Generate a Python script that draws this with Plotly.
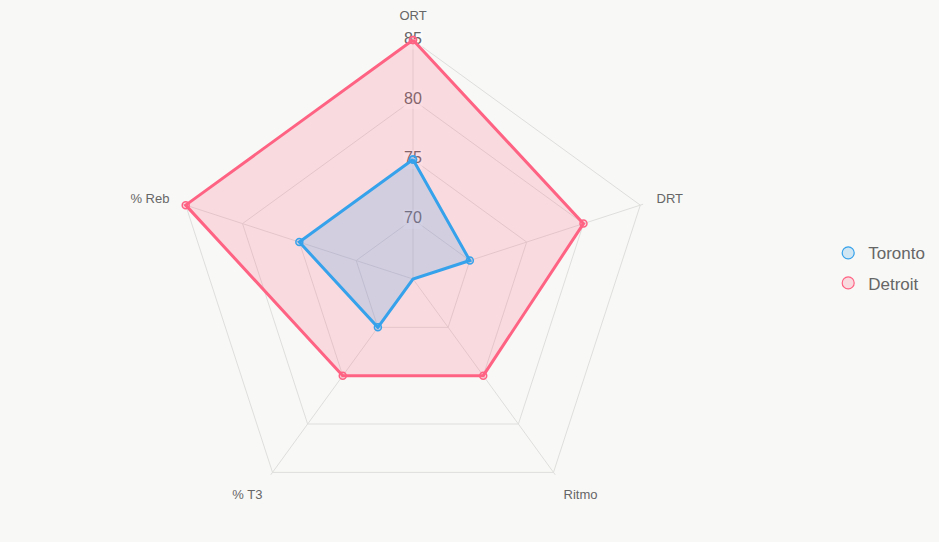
import plotly.graph_objects as go

categories = ["ORT", "DRT", "Ritmo", "% T3", "% Reb"]
toronto = [75, 70, 65, 70, 75]
detroit = [85, 80, 75, 75, 85]
tick_vals = [70, 75, 80, 85]
tick_text = ["70", "75", "80", "85"]

bg = "rgb(248,248,246)"
grid = "rgb(222,222,220)"
blue = "rgb(54,162,235)"
red = "rgb(255,99,132)"

fig = go.Figure()

# radial tick labels along the first axis
fig.add_trace(go.Scatterpolar(
    r=tick_vals, theta=[categories[0]] * len(tick_vals),
    mode="markers+text", text=tick_text, textposition="middle center",
    textfont=dict(family="Liberation Sans, Arial", size=16, color="#666"),
    marker=dict(symbol="square", size=19, color="rgba(255,255,255,0.55)"),
    showlegend=False, hoverinfo="skip", cliponaxis=False))

def closed(v):
    return list(v) + [v[0]]

for name, vals, col, fillc in [("Detroit", detroit, red, "rgba(255,99,132,0.2)"),
                                ("Toronto", toronto, blue, "rgba(54,162,235,0.2)")]:
    fig.add_trace(go.Scatterpolar(
        r=closed(vals), theta=closed(categories), name=name,
        mode="lines+markers", fill="toself", fillcolor=fillc,
        line=dict(color=col, width=3),
        marker=dict(size=7, color=fillc, line=dict(color=col, width=1.5)),
        showlegend=False, cliponaxis=False))

for name, col, fillc in [("Toronto", blue, "rgba(54,162,235,0.2)"),
                         ("Detroit", red, "rgba(255,99,132,0.2)")]:
    fig.add_trace(go.Scatterpolar(
        r=[None], theta=[None], name=name, mode="markers", legendgroup=name,
        marker=dict(size=12, color=fillc, line=dict(color=col, width=1.2)),
        showlegend=True))

fig.update_layout(
    width=939, height=542,
    margin=dict(l=0, r=0, t=0, b=0),
    paper_bgcolor=bg,
    font=dict(family="Liberation Sans, Arial", color="#666"),
    polar=dict(
        domain=dict(x=[171 / 939, 655 / 939], y=[21 / 542, 505 / 542]),
        bgcolor=bg,
        gridshape="linear",
        radialaxis=dict(range=[65, 85.25], tickvals=tick_vals, showticklabels=False,
                        ticks="", showline=False, gridcolor=grid, gridwidth=1),
        angularaxis=dict(rotation=90, direction="clockwise", gridcolor=grid,
                         showline=False, ticks="outside",
                         ticklen=11, tickcolor="rgba(0,0,0,0)",
                         tickfont=dict(size=13, color="#666")),
    ),
    legend=dict(x=0.882, y=0.505, xanchor="left", yanchor="middle",
                traceorder="grouped", tracegroupgap=5,
                font=dict(size=17, color="#666"), bgcolor="rgba(0,0,0,0)"),
)

fig.write_html("out.html")
